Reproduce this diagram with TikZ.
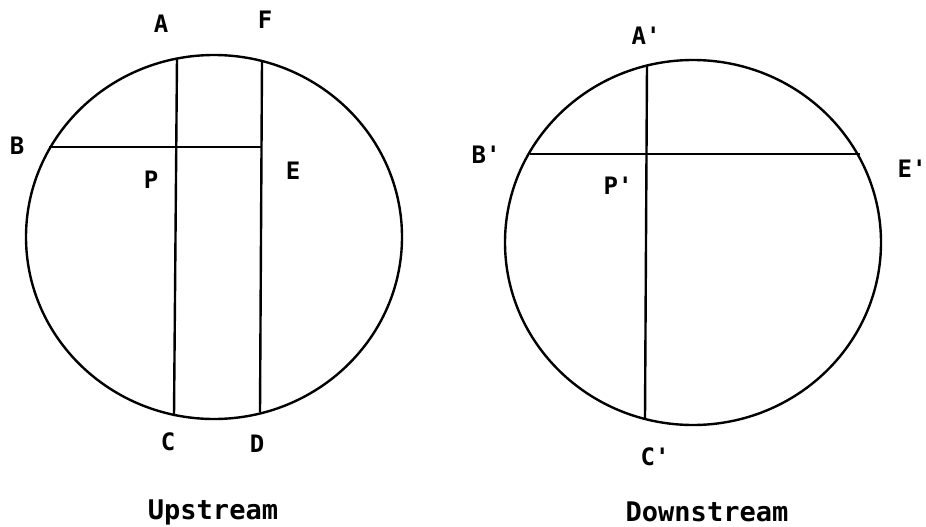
\documentclass[tikz,border=0pt]{standalone}
\usepackage{fontspec}
\setmonofont{DejaVu Sans Mono}
\begin{document}
\begin{tikzpicture}[x=1pt,y=-1pt,
  ln/.style={line width=2.4pt},
  lbl/.style={font=\ttfamily\bfseries\fontsize{24}{24}\selectfont, inner sep=0pt, anchor=base},
  ttl/.style={font=\ttfamily\bfseries\fontsize{27}{27}\selectfont, inner sep=0pt, anchor=base}]
\useasboundingbox (0,0) rectangle (926,527);
% Upstream circle
\draw[ln] (214,237) ellipse [x radius=188, y radius=182];
\coordinate (a) at (177,58);
\coordinate (c) at (174,416);
\coordinate (f) at (262,61);
\coordinate (d) at (260,412);
\coordinate (b) at (49,147);
\coordinate (e) at (262,147);
\draw[ln] (a) -- (c);
\draw[ln] (f) -- (d);
\draw[ln] (b) -- (e);
\node[lbl] (lA) at (161,33) {A};
\node[lbl] (lF) at (265,29) {F};
\node[lbl] (lB) at (17,154) {B};
\node[lbl] (lE) at (293,179) {E};
\node[lbl] (lP) at (151,188) {P};
\node[lbl] (lC) at (168,450) {C};
\node[lbl] (lD) at (257,452) {D};
\node[ttl] (up) at (213,519) {Upstream};
% Downstream circle
\draw[ln] (693,242.5) ellipse [x radius=188, y radius=182.5];
\coordinate (a2) at (647,65);
\coordinate (c2) at (645,418);
\coordinate (b2) at (530,154);
\coordinate (e2) at (860,154);
\draw[ln] (a2) -- (c2);
\draw[ln] (b2) -- (e2);
\node[lbl] (lA2) at (646,45) {A'};
\node[lbl] (lB2) at (486,163) {B'};
\node[lbl] (lE2) at (912,177) {E'};
\node[lbl] (lP2) at (618,194) {P'};
\node[lbl] (lC2) at (655,465) {C'};
\node[ttl] (down) at (707,521) {Downstream};
\end{tikzpicture}
\end{document}
